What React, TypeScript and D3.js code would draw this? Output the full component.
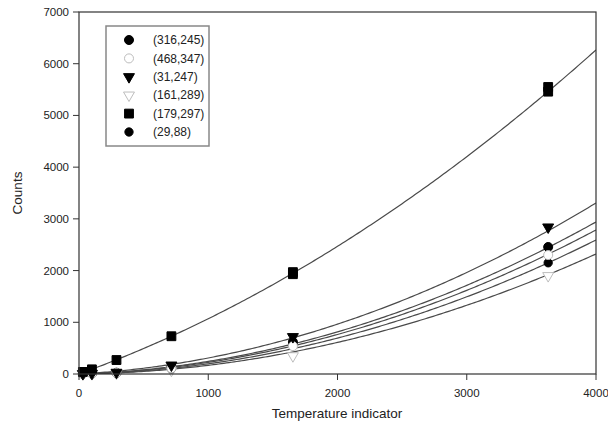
import React from "react";
import * as d3 from "d3";

const xTicks = [0, 1000, 2000, 3000, 4000];
const yTicks = [0, 1000, 2000, 3000, 4000, 5000, 6000, 7000];

const seriesNames = ["(316,245)", "(468,347)", "(31,247)", "(161,289)", "(179,297)", "(29,88)"];
const seriesShape = ["circle", "circle", "triangle", "triangle", "square", "circleSmall"];
const seriesFilled = [true, false, true, false, true, true];

const xCircle = [30, 100, 290, 715, 1655, 3630];
const yCircle = [3, 8, 25, 130, 620, 2456];
const xHollowCircle = [30, 100, 290, 715, 1655, 3630];
const yHollowCircle = [2, 5, 20, 110, 540, 2300];
const xTriangle = [30, 100, 290, 715, 1655, 3630];
const yTriangle = [5, 10, 30, 170, 720, 2840];
const xHollowTriangle = [30, 100, 290, 715, 1655, 3630];
const yHollowTriangle = [1, 3, 12, 70, 350, 1900];
const xSquare = [30, 100, 290, 715, 1655, 1655, 3630, 3630];
const ySquare = [40, 90, 270, 730, 1930, 1970, 5460, 5550];
const xSmallCircle = [30, 100, 290, 715, 1655, 3630];
const ySmallCircle = [2, 5, 18, 100, 560, 2150];

// quadratic fit coefficients (a*x^2 + b*x + c) per series, same order as names
const fitA = [1.637e-4, 1.571e-4, 1.7236e-4, 1.374e-4, 1.66e-4, 1.502e-4];
const fitB = [0.0802, 0.0679, 0.1373, 0.0306, 0.9026, 0.047];
const fitC = [0, 0, 0, 0, 0, 0];

const seriesX = [xCircle, xHollowCircle, xTriangle, xHollowTriangle, xSquare, xSmallCircle];
const seriesY = [yCircle, yHollowCircle, yTriangle, yHollowTriangle, ySquare, ySmallCircle];

const W = 608;
const H = 432;
const left = 79;
const right = 596;
const top = 12;
const bottom = 374;

const xScale = d3.scaleLinear().domain([0, 4000]).range([left, right]);
const yScale = d3.scaleLinear().domain([0, 7000]).range([bottom, top]);

function markerPath(shape: string): string {
  if (shape === "circle") return d3.symbol(d3.symbolCircle, 64)()!;
  if (shape === "circleSmall") return d3.symbol(d3.symbolCircle, 54)()!;
  if (shape === "square") return d3.symbol(d3.symbolSquare, 78)()!;
  return d3.symbol(d3.symbolTriangle, 52)()!;
}

function Marker({ shape, filled, x, y }: { shape: string; filled: boolean; x: number; y: number }) {
  const rot = shape === "triangle" ? " rotate(180)" : "";
  return (
    <path
      d={markerPath(shape)}
      transform={`translate(${x},${y})${rot}`}
      fill={filled ? "#000" : "#fff"}
      stroke={filled ? "#000" : "#bdbdbd"}
      strokeWidth={1}
    />
  );
}

export default function App() {
  const font = "Liberation Sans, Arial, sans-serif";
  const xs = d3.range(0, 4001, 20);
  const line = d3
    .line<number>()
    .x((d) => xScale(d))
    .y((d) => yScale(d));
  return (
    <svg width={W} height={H} style={{ position: "absolute", left: 0, top: 0 }} fontFamily={font}>
      <rect x={0} y={0} width={W} height={H} fill="#fff" />
      <defs>
        <clipPath id="plotclip">
          <rect x={left} y={top} width={right - left} height={bottom - top} />
        </clipPath>
      </defs>
      <g clipPath="url(#plotclip)">
        {fitA.map((a, i) => (
          <path
            key={"c" + i}
            d={line.y((d) => yScale(a * d * d + fitB[i] * d + fitC[i]))(xs)!}
            fill="none"
            stroke="#4a4a4a"
            strokeWidth={1.2}
          />
        ))}
      </g>
      {[3, 5, 0, 1, 2, 4].map((i) =>
        seriesX[i].map((xv, j) => (
          <Marker
            key={`m${i}-${j}`}
            shape={seriesShape[i]}
            filled={seriesFilled[i]}
            x={xScale(xv)}
            y={yScale(seriesY[i][j])}
          />
        ))
      )}
      <rect x={left} y={top} width={right - left} height={bottom - top} fill="none" stroke="#333" strokeWidth={1.2} />
      {yTicks.map((t) => (
        <g key={"y" + t}>
          <line x1={left - 6} x2={left} y1={yScale(t)} y2={yScale(t)} stroke="#333" strokeWidth={1} />
          <text x={left - 10} y={yScale(t)} dy="0.35em" textAnchor="end" fontSize={11.5} fill="#222">
            {t}
          </text>
        </g>
      ))}
      {xTicks.map((t) => (
        <g key={"x" + t}>
          <line x1={xScale(t)} x2={xScale(t)} y1={bottom} y2={bottom + 6} stroke="#333" strokeWidth={1} />
          <text x={xScale(t)} y={bottom + 23} textAnchor="middle" fontSize={11.5} fill="#222">
            {t}
          </text>
        </g>
      ))}
      <text x={337} y={418} textAnchor="middle" fontSize={13.5} fill="#222">
        Temperature indicator
      </text>
      <text transform={`translate(22,${(top + bottom) / 2}) rotate(-90)`} textAnchor="middle" fontSize={13.5} fill="#222">
        Counts
      </text>
      <rect x={106} y={26} width={103} height={120} fill="#fff" stroke="#888" strokeWidth={1.5} />
      {seriesNames.map((n, i) => {
        const ly = 40 + i * 18.4;
        return (
          <g key={"l" + i}>
            <Marker shape={seriesShape[i]} filled={seriesFilled[i]} x={129} y={ly} />
            <text x={153} y={ly} dy="0.35em" fontSize={12} fill="#222">
              {n}
            </text>
          </g>
        );
      })}
    </svg>
  );
}
